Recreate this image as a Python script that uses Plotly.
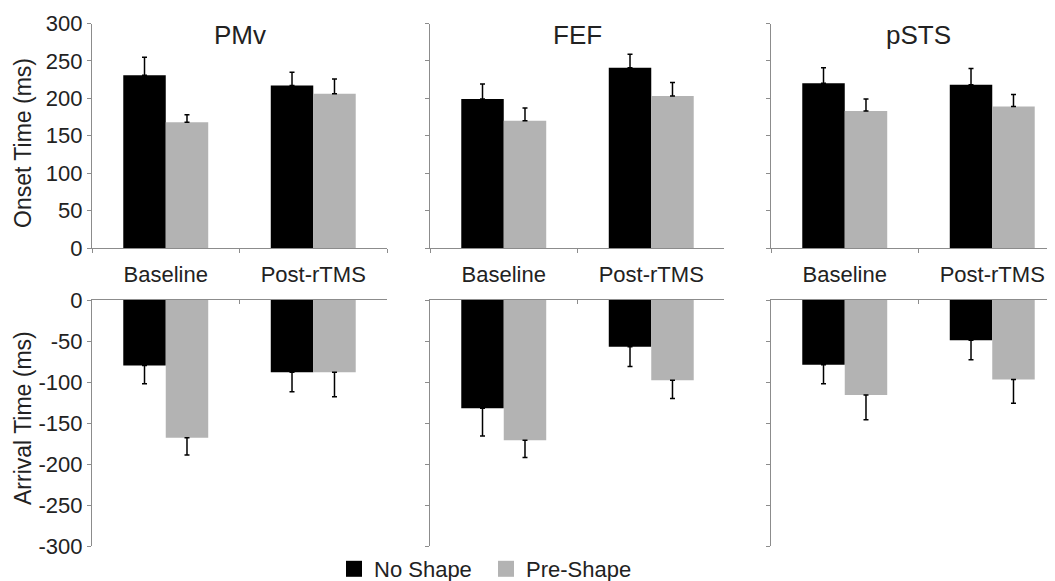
import plotly.graph_objects as go

# ---- data ----
categories = ["Baseline", "Post-rTMS"]
regions = ["PMv", "FEF", "pSTS"]

onset_no_shape = {"PMv": [231, 217], "FEF": [199, 241], "pSTS": [220, 218]}
onset_no_shape_err = {"PMv": [24, 18], "FEF": [20, 18], "pSTS": [21, 22]}
onset_pre_shape = {"PMv": [168, 206], "FEF": [170, 203], "pSTS": [183, 189]}
onset_pre_shape_err = {"PMv": [10, 20], "FEF": [17, 18], "pSTS": [16, 16]}

arrival_no_shape = {"PMv": [-80, -88], "FEF": [-132, -57], "pSTS": [-79, -49]}
arrival_no_shape_err = {"PMv": [22, 24], "FEF": [34, 24], "pSTS": [23, 24]}
arrival_pre_shape = {"PMv": [-168, -88], "FEF": [-171, -98], "pSTS": [-116, -97]}
arrival_pre_shape_err = {"PMv": [21, 30], "FEF": [21, 22], "pSTS": [30, 29]}

onset_ticks = [0, 50, 100, 150, 200, 250, 300]
onset_ticktext = ["0", "50", "100", "150", "200", "250", "300"]
arrival_ticks = [0, -50, -100, -150, -200, -250, -300]
arrival_ticktext = ["0", "-50", "-100", "-150", "-200", "-250", "-300"]

series_names = ["No Shape", "Pre-Shape"]

# ---- styling ----
OFF = 8                      # page body margin of the browser
SCREEN_W, SCREEN_H = 1055, 581
W, H = SCREEN_W - OFF, SCREEN_H - OFF
FONT = "Liberation Sans, Arial, sans-serif"
TXT = "#222222"
AX = "#8c8c8c"
BLACK = "#000000"
GRAY = "#b3b3b3"
COLORS = [BLACK, GRAY]

# panel geometry in screen pixels
x_px = {"PMv": (92, 387), "FEF": (430, 724), "pSTS": (771, 1055)}
TOP_Y = (23.5, 248)
BOT_Y = (300, 546)
CAT_PX = 147.5


def px_x(p):
    return (p - OFF) / W


def px_y(p):
    return (H - (p - OFF)) / H


fig = go.Figure()

for i, reg in enumerate(regions):
    top_idx = i + 1
    bot_idx = i + 4
    for idx, (vals, errs, is_top) in [
        (top_idx, ((onset_no_shape, onset_pre_shape), (onset_no_shape_err, onset_pre_shape_err), True)),
        (bot_idx, ((arrival_no_shape, arrival_pre_shape), (arrival_no_shape_err, arrival_pre_shape_err), False)),
    ]:
        xa = "x" if idx == 1 else f"x{idx}"
        ya = "y" if idx == 1 else f"y{idx}"
        for s in range(2):
            e = errs[s][reg]
            zeros = [0] * len(e)
            err = dict(
                type="data",
                symmetric=False,
                array=e if is_top else zeros,
                arrayminus=zeros if is_top else e,
                color=BLACK,
                thickness=1.5,
                width=2.5,
            )
            fig.add_trace(
                go.Bar(
                    x=categories,
                    y=vals[s][reg],
                    name=series_names[s],
                    marker=dict(color=COLORS[s], line=dict(width=0)),
                    error_y=err,
                    showlegend=False,
                    offsetgroup=str(s),
                    xaxis=xa,
                    yaxis=ya,
                )
            )

# legend proxies
for s in range(2):
    fig.add_trace(
        go.Scatter(
            x=[None], y=[None], mode="markers", name=series_names[s],
            marker=dict(symbol="square", size=16, color=COLORS[s]),
            xaxis="x", yaxis="y", showlegend=True,
        )
    )

layout = dict(
    width=W, height=H, autosize=False,
    margin=dict(l=0, r=0, t=0, b=0, autoexpand=False),
    paper_bgcolor="white", plot_bgcolor="white",
    font=dict(family=FONT, size=22, color=TXT),
    barmode="group", bargap=0.424, bargroupgap=0,
    showlegend=True,
    legend=dict(
        orientation="h", x=px_x(334), xanchor="left", y=px_y(569), yanchor="middle",
        font=dict(size=22, color=TXT), bgcolor="rgba(0,0,0,0)",
        itemsizing="trace", traceorder="normal",
        entrywidth=107, entrywidthmode="pixels",
    ),
)

annotations = []
for i, reg in enumerate(regions):
    l, r = x_px[reg]
    vis = (r - l) / CAT_PX
    xr = [-0.5, -0.5 + vis]
    for idx, ypx, rng, tv, tt, is_top in [
        (i + 1, TOP_Y, [0, 300], onset_ticks, onset_ticktext, True),
        (i + 4, BOT_Y, [-300, 0], arrival_ticks, arrival_ticktext, False),
    ]:
        xk = "xaxis" if idx == 1 else f"xaxis{idx}"
        yk = "yaxis" if idx == 1 else f"yaxis{idx}"
        ya = "y" if idx == 1 else f"y{idx}"
        xa = "x" if idx == 1 else f"x{idx}"
        layout[xk] = dict(
            domain=[px_x(l), min(1.0, px_x(r))],
            anchor=ya, type="category", range=xr, automargin=False,
            showline=True, linecolor=AX, linewidth=1.2,
            ticks="outside" if is_top else "inside", tickson="boundaries",
            ticklen=4, tickcolor=AX, tickwidth=1,
            showticklabels=is_top, side="bottom" if is_top else "top",
            tickfont=dict(size=22, color=TXT), ticklabelstandoff=6,
            showgrid=False, zeroline=False, fixedrange=True,
        )
        layout[yk] = dict(
            domain=[px_y(ypx[1]), px_y(ypx[0])],
            anchor=xa, range=rng, automargin=False,
            tickmode="array", tickvals=tv, ticktext=tt,
            showticklabels=(i == 0),
            showline=True, linecolor=AX, linewidth=1.2,
            ticks="outside", ticklen=4, tickcolor=AX, tickwidth=1,
            tickfont=dict(size=22, color=TXT),
            showgrid=False, zeroline=False, fixedrange=True,
        )
    # panel title
    annotations.append(dict(
        text=reg, xref="x" if i == 0 else f"x{i + 1}", x=0.5,
        yref="paper", y=px_y(35),
        xanchor="center", yanchor="middle", showarrow=False,
        font=dict(size=26, color=TXT),
    ))

annotations.append(dict(
    text="Onset Time (ms)", xref="paper", x=px_x(23), yref="paper", y=px_y(143),
    textangle=-90, xanchor="center", yanchor="middle", showarrow=False,
    font=dict(size=23, color=TXT),
))
annotations.append(dict(
    text="Arrival Time (ms)", xref="paper", x=px_x(23), yref="paper", y=px_y(418),
    textangle=-90, xanchor="center", yanchor="middle", showarrow=False,
    font=dict(size=23, color=TXT),
))
layout["annotations"] = annotations

fig.update_layout(**layout)
fig.write_html("out.html")
